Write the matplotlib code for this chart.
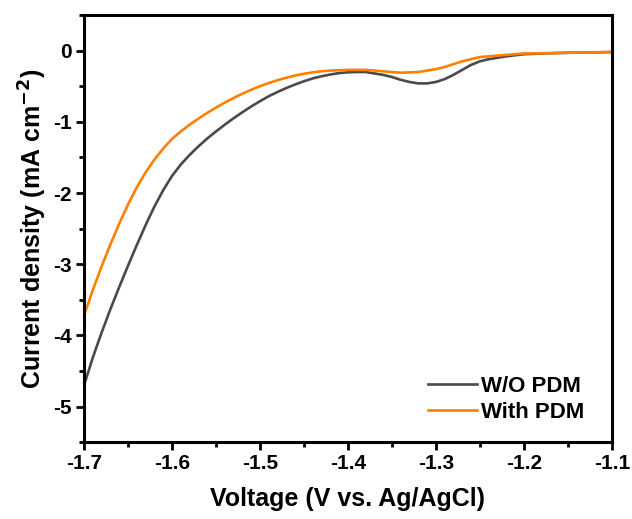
import matplotlib
matplotlib.use("Agg")
import matplotlib.pyplot as plt
from matplotlib.ticker import MultipleLocator

plt.rcParams['font.family'] = ['Liberation Sans', 'DejaVu Sans']
plt.rcParams['font.weight'] = 'bold'
plt.rcParams['axes.unicode_minus'] = False
plt.rcParams['mathtext.default'] = 'bf'

# W/O PDM
v_wo = [-1.700, -1.690, -1.680, -1.670, -1.660, -1.650, -1.640, -1.630, -1.620,
        -1.610, -1.600, -1.590, -1.580, -1.570, -1.560, -1.550, -1.540, -1.530,
        -1.520, -1.510, -1.500, -1.490, -1.480, -1.470, -1.460, -1.450, -1.440,
        -1.430, -1.420, -1.410, -1.400, -1.390, -1.380, -1.370, -1.360, -1.350,
        -1.340, -1.330, -1.320, -1.310, -1.300, -1.290, -1.280, -1.270, -1.260,
        -1.250, -1.240, -1.220, -1.200, -1.180, -1.150, -1.100]
j_wo = [-4.70, -4.31, -3.96, -3.63, -3.32, -3.02, -2.73, -2.45, -2.19,
        -1.96, -1.76, -1.60, -1.465, -1.345, -1.235, -1.135, -1.04, -0.95,
        -0.865, -0.785, -0.71, -0.64, -0.58, -0.525, -0.475, -0.43, -0.39,
        -0.36, -0.335, -0.315, -0.305, -0.30, -0.30, -0.32, -0.34, -0.37,
        -0.41, -0.44, -0.46, -0.46, -0.44, -0.40, -0.34, -0.27, -0.20,
        -0.15, -0.12, -0.08, -0.05, -0.04, -0.03, -0.02]

# With PDM
v_with = [-1.700, -1.690, -1.680, -1.670, -1.660, -1.650, -1.640, -1.630, -1.620,
          -1.610, -1.600, -1.590, -1.580, -1.570, -1.560, -1.550, -1.540, -1.530,
          -1.520, -1.510, -1.500, -1.490, -1.480, -1.470, -1.460, -1.450, -1.440,
          -1.430, -1.420, -1.400, -1.380, -1.370, -1.360, -1.350, -1.340, -1.320,
          -1.300, -1.290, -1.280, -1.270, -1.260, -1.250, -1.240, -1.220, -1.200,
          -1.150, -1.100]
j_with = [-3.72, -3.36, -3.03, -2.72, -2.43, -2.16, -1.92, -1.71, -1.53,
          -1.375, -1.24, -1.135, -1.04, -0.955, -0.875, -0.80, -0.73, -0.665,
          -0.605, -0.55, -0.50, -0.455, -0.415, -0.38, -0.35, -0.325, -0.305,
          -0.29, -0.28, -0.27, -0.27, -0.28, -0.29, -0.30, -0.31, -0.30,
          -0.26, -0.23, -0.19, -0.15, -0.12, -0.09, -0.08, -0.06, -0.04,
          -0.03, -0.02]

fig = plt.figure(figsize=(6.32, 5.19), dpi=100)
ax = fig.add_axes([0.133, 0.148, 0.835, 0.823])

ax.plot(v_wo, j_wo, color='#4a4a4a', lw=1.9, label='W/O PDM')
ax.plot(v_with, j_with, color='#ff8000', lw=1.9, label='With PDM')

ax.set_xlim(-1.7, -1.1)
ax.set_ylim(-5.5, 0.5)
ax.xaxis.set_major_locator(MultipleLocator(0.1))
ax.xaxis.set_minor_locator(MultipleLocator(0.05))
ax.yaxis.set_major_locator(MultipleLocator(1))
ax.yaxis.set_minor_locator(MultipleLocator(0.5))
ax.tick_params(which='both', direction='out', width=2, top=False, right=False, labelsize=15)
ax.tick_params(which='major', length=5.8, pad=3)
ax.tick_params(which='minor', length=3.5)
for s in ax.spines.values():
    s.set_linewidth(2.2)

ax.set_xlabel('Voltage (V vs. Ag/AgCl)', fontsize=18, fontweight='bold', labelpad=10)
ax.set_ylabel('Current density (mA cm$^{-2}$)', fontsize=18, fontweight='bold', labelpad=3)

ax.legend(loc='lower right', bbox_to_anchor=(0.965, 0.025), frameon=False, fontsize=16,
          handlelength=2.2, handletextpad=0.2, labelspacing=0.2, borderaxespad=0)

fig.savefig('out.png', dpi=100)
